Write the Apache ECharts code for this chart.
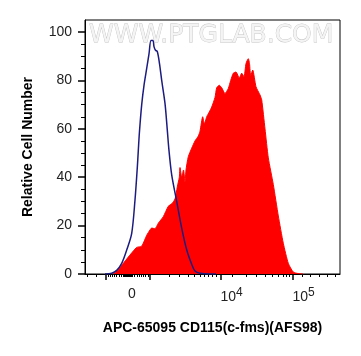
<!DOCTYPE html>
<html>
<head>
<meta charset="utf-8">
<script src="https://cdn.jsdelivr.net/npm/echarts@6/dist/echarts.min.js"></script>
<style>
html,body{margin:0;padding:0;background:#fff;}
#chart{width:361px;height:356px;}
</style>
</head>
<body>
<div id="chart"></div>
<script>
// Display channel scale (0..255), biexponential-like axis
var controlX = [20, 26.7, 31.7, 36.7, 41.7, 46.7, 50, 52.3, 53.3, 54.5, 56.7, 59, 61.7, 64, 66, 68, 69, 70.5, 72.3, 74.5, 76.7, 80, 82.3, 84, 86.7, 91.7, 96.7, 101.7, 106.7, 110, 115, 125, 131];
var controlY = [0, 0.3, 1.5, 4.4, 9.9, 16.8, 30.6, 44, 51, 59, 70, 78, 85, 91, 96.5, 96.5, 94, 92.5, 92, 87, 80, 70.5, 59.5, 51, 41, 30, 19, 10, 4, 1.2, 0.3, 0, 0];

var stainedX = [28.3, 33.3, 38.3, 43.3, 48.3, 51.7, 56.7, 61.7, 65, 66.7, 70, 73.3, 78.3, 83.3, 86.7, 90, 92.3, 94.3, 95, 96.7, 98.5, 100, 101, 103.3, 106.7, 110, 113.3, 115, 117.7, 119.3, 121.7, 124.3, 126.7, 130, 131.7, 134.3, 136.7, 140, 143.3, 145.7, 148.3, 151, 154.3, 156.7, 159, 161, 163.3, 164.5, 165.7, 167.7, 171, 175, 176.7, 180, 183.3, 188.3, 193.3, 198.3, 203.3, 208.3, 213, 218];
var stainedY = [0, 1.7, 4.4, 7, 9.5, 11, 11.5, 16, 18.2, 19, 18.7, 21, 23.7, 28, 29, 31, 36, 40, 44, 40, 43, 38, 43, 48.5, 52, 55, 57, 59, 65, 62, 65, 67, 69, 73, 77, 78, 77, 74.6, 76.7, 80, 83, 83.5, 81, 83, 81.5, 87, 89, 87, 82, 84.3, 77.4, 74, 72, 60, 48, 37, 24, 12.7, 4.4, 0.8, 0.2, 0];

var xMajorTicks = [20.7, 65, 136, 207.7];
var xMinorTicks = [2.3, 11.7,
  22.9, 25.1, 27.3, 29.5, 31.7, 33.9, 36.1, 38.3,
  39, 40, 41, 42, 43, 44, 45, 46,
  47.5, 49.7, 51.9, 54.1, 56.3, 58.5, 60.7, 62.9,
  84, 94.5, 103, 109.5, 115.5, 119.5, 123.5, 127.5, 131,
  147, 161.5, 171, 180, 187, 193.3, 198, 201.3, 204,
  217, 225.5, 234, 242, 250];
var xLabelPos = [43, 135.5, 207.5];
var xLabelText = ['{n|0}', '{n|10}{s|4}', '{n|10}{s|5}'];

var yMajorTicks = [0, 20, 40, 60, 80, 100];
var yMinorTicks = [5, 10, 15, 25, 30, 35, 45, 50, 55, 65, 70, 75, 85, 90, 95];

function pairs(xs, ys) {
  var out = [];
  for (var i = 0; i < xs.length; i++) out.push([xs[i], ys[i]]);
  return out;
}

var font = 'Liberation Sans, Arial, sans-serif';
var chart = echarts.init(document.getElementById('chart'), null, {renderer: 'canvas'});
chart.setOption({
  animation: false,
  backgroundColor: '#ffffff',
  title: {
    text: 'WWW.PTGLAB.COM',
    left: 89, top: 23, padding: 0,
    textStyle: {
      fontFamily: 'DejaVu Sans', fontSize: 25, fontWeight: 'normal',
      color: '#f4f4f4', textBorderColor: '#c4c4c4', textBorderWidth: 0.8
    }
  },
  grid: {left: 85, right: 21, top: 20, bottom: 82, show: true, borderColor: '#000', borderWidth: 1, backgroundColor: 'transparent'},
  xAxis: [{
    type: 'value', min: 0, max: 255,
    axisLine: {show: true, lineStyle: {color: '#000', width: 1}},
    axisTick: {show: true, customValues: xMajorTicks, length: 6, lineStyle: {color: '#000', width: 1.5}},
    splitLine: {show: false},
    axisLabel: {
      show: true, customValues: xLabelPos, align: 'left', margin: 13,
      formatter: function (v) {
        for (var i = 0; i < xLabelPos.length; i++) if (Math.abs(v - xLabelPos[i]) < 0.5) return xLabelText[i];
        return '';
      },
      rich: {
        n: {fontFamily: font, fontSize: 14, color: '#222'},
        s: {fontFamily: font, fontSize: 12, color: '#222', verticalAlign: 'bottom', padding: [0, 0, 9, 0]}
      }
    },
    name: 'APC-65095 CD115(c-fms)(AFS98)',
    nameLocation: 'middle', nameGap: 47,
    nameTextStyle: {fontFamily: font, fontSize: 14, fontWeight: 'bold', color: '#000'}
  }, {
    type: 'value', min: 0, max: 255, position: 'bottom',
    axisLine: {show: false},
    axisTick: {show: true, customValues: xMinorTicks, length: 3, lineStyle: {color: '#000', width: 1}},
    axisLabel: {show: false},
    splitLine: {show: false}
  }],
  yAxis: [{
    type: 'value', min: 0, max: 105,
    axisLine: {show: true, lineStyle: {color: '#000', width: 1}},
    axisTick: {show: true, customValues: yMajorTicks, length: 7, lineStyle: {color: '#000', width: 1.5}},
    splitLine: {show: false},
    axisLabel: {show: true, customValues: yMajorTicks, margin: 13, fontFamily: font, fontSize: 14, color: '#222'},
    name: 'Relative Cell Number',
    nameLocation: 'middle', nameGap: 50,
    nameTextStyle: {fontFamily: font, fontSize: 14, fontWeight: 'bold', color: '#000'}
  }, {
    type: 'value', min: 0, max: 105, position: 'left',
    axisLine: {show: false},
    axisTick: {show: true, customValues: yMinorTicks, length: 4, lineStyle: {color: '#000', width: 1}},
    axisLabel: {show: false},
    splitLine: {show: false}
  }],
  series: [{
    type: 'line', name: 'stained', xAxisIndex: 0, yAxisIndex: 0,
    data: pairs(stainedX, stainedY), showSymbol: false, symbol: 'none', smooth: 0.2,
    lineStyle: {color: '#ff0000', width: 1},
    areaStyle: {color: '#ff0000', opacity: 1},
    z: 2
  }, {
    type: 'line', name: 'control', xAxisIndex: 0, yAxisIndex: 0,
    data: pairs(controlX, controlY), showSymbol: false, symbol: 'none', smooth: 0.3,
    lineStyle: {color: '#1c1c80', width: 1.5},
    z: 3
  }]
});
</script>
</body>
</html>
